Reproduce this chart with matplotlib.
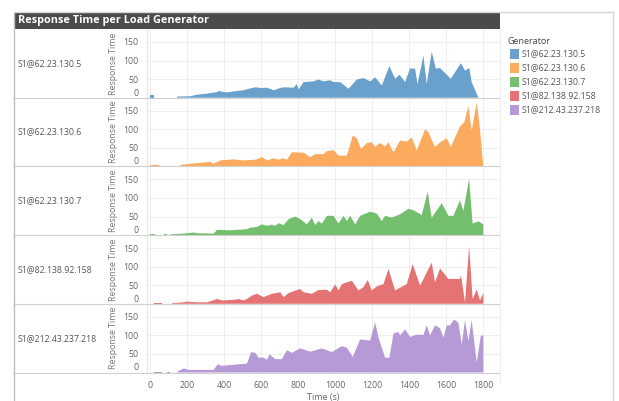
import numpy as np
import matplotlib
matplotlib.use('Agg')
import matplotlib.pyplot as plt
from matplotlib.lines import Line2D
from matplotlib.patches import Rectangle

plt.rcParams['font.family'] = ['Open Sans', 'DejaVu Sans']

nan = np.nan

# data (time in s, response time)
names = ['S1@62.23.130.5', 'S1@62.23.130.6', 'S1@62.23.130.7', 'S1@82.138.92.158', 'S1@212.43.237.218']
colors = ['#69a0cc', '#fbaa5e', '#73bf6e', '#e57373', '#b59ad6']

t1 = [0, 22, 30, 144, 216, 252, 306, 360, 369, 414, 450, 500, 540, 567, 600, 630, 666, 700, 720, 774, 792, 801,
      828, 882, 909, 936, 972, 990, 1026, 1071, 1116, 1152, 1188, 1215, 1251, 1292, 1323, 1346, 1377, 1404,
      1431, 1444, 1476, 1494, 1521, 1543, 1566, 1624, 1679, 1701, 1724, 1737, 1773]
v1 = [6, 6, nan, 3, 4, 8, 11, 15, 18, 14, 17, 20, 25, 28, 26, 27, 20, 26, 28, 27, 37, 22,
      42, 44, 49, 44, 47, 42, 42, 24, 49, 53, 44, 55, 33, 85, 51, 62, 42, 79,
      78, 37, 113, 37, 124, 78, 80, 51, 93, 73, 80, 42, 0]

t2 = [0, 45, 55, 162, 252, 324, 342, 378, 450, 500, 567, 603, 630, 666, 693, 720, 738, 765, 828, 864, 891, 936,
      954, 990, 1017, 1062, 1094, 1116, 1139, 1170, 1197, 1215, 1238, 1269, 1287, 1314, 1350, 1386, 1413,
      1440, 1485, 1503, 1539, 1566, 1602, 1624, 1674, 1697, 1719, 1737, 1764, 1778, 1800]
v2 = [3, 3, nan, 4, 9, 12, 7, 16, 19, 16, 18, 25, 16, 22, 18, 22, 18, 38, 37, 25, 33, 33,
      41, 44, 29, 29, 83, 76, 47, 63, 65, 52, 63, 54, 65, 38, 70, 67, 78,
      43, 100, 92, 52, 65, 76, 52, 108, 119, 163, 96, 172, 119, 0]

t3 = [0, 27, 35, 72, 90, 100, 108, 180, 234, 252, 342, 360, 432, 522, 540, 576, 603, 630, 657, 675, 693, 720,
      747, 783, 810, 846, 873, 891, 909, 927, 954, 990, 1017, 1044, 1062, 1080, 1107, 1134, 1188, 1224,
      1251, 1269, 1305, 1350, 1395, 1422, 1467, 1499, 1521, 1575, 1611, 1638, 1674, 1692, 1723, 1742, 1773, 1800]
v3 = [3, 3, nan, 2, 2, nan, 2, 4, 7, 5, 4, 14, 13, 16, 20, 22, 29, 25, 28, 25, 32, 27,
      43, 50, 43, 29, 47, 27, 38, 31, 52, 52, 31, 52, 38, 52, 29, 52, 63, 58,
      38, 52, 47, 56, 71, 67, 54, 117, 47, 86, 52, 52, 94, 65, 152, 31, 37, 29]

t4 = [18, 63, 70, 117, 180, 198, 252, 306, 360, 387, 459, 477, 504, 522, 549, 576, 612, 657, 702, 720, 747,
      810, 828, 873, 909, 954, 972, 999, 1017, 1035, 1062, 1089, 1125, 1152, 1175, 1197, 1224, 1260, 1287,
      1323, 1386, 1418, 1458, 1521, 1539, 1566, 1611, 1674, 1679, 1701, 1723, 1742, 1764, 1782, 1800]
v4 = [3, 3, nan, 2, 4, 6, 4, 4, 13, 9, 11, 13, 9, 13, 22, 27, 18, 27, 31, 18, 29,
      40, 31, 27, 37, 38, 31, 52, 36, 53, 58, 62, 36, 45, 64, 36, 47, 53, 94,
      36, 53, 107, 49, 111, 58, 95, 67, 67, 77, 4, 156, 13, 38, 9, 29]

t5 = [18, 63, 70, 90, 108, 115, 144, 180, 207, 342, 364, 387, 522, 545, 567, 585, 612, 630, 644, 675, 711,
      738, 765, 810, 864, 927, 981, 1035, 1062, 1094, 1134, 1188, 1215, 1233, 1269, 1292, 1314, 1341, 1350,
      1377, 1404, 1440, 1476, 1494, 1512, 1539, 1566, 1584, 1602, 1620, 1642, 1665, 1683, 1701, 1719, 1737,
      1764, 1786, 1800]
v5 = [2, 2, nan, 1, 1, nan, 2, 11, 7, 7, 22, 18, 24, 55, 53, 40, 40, 34, 49, 36, 36,
      60, 53, 65, 56, 65, 55, 71, 67, 42, 89, 86, 135, 94, 40, 40, 105, 109, 100,
      116, 96, 102, 101, 127, 100, 127, 119, 94, 127, 127, 143, 134, 76, 141, 85, 141,
      27, 98, 101]

times = [t1, t2, t3, t4, t5]
values = [v1, v2, v3, v4, v5]

W, H = 619, 401
fig = plt.figure(figsize=(W / 100, H / 100), dpi=100)


def fx(px):
    return px / W


def fy(py):
    return 1 - py / H


grey_line = '#d0d0d0'
row_top = 29
row_h = 68.7
ax_left = 146.7
ax_right = 500

for i in range(5):
    top = row_top + i * row_h
    ax = fig.add_axes([fx(ax_left), fy(top + row_h), fx(ax_right - ax_left), row_h / H])
    t = np.array(times[i], dtype=float)
    v = np.array(values[i], dtype=float)
    ax.fill_between(t, 0, v, color=colors[i], lw=0)
    ax.set_xlim(-20, 1890)
    ax.set_ylim(0, 185)
    ax.set_yticks([0, 50, 100, 150])
    ax.set_xticks(range(0, 1801, 200))
    ax.grid(True, color='#eeeeee', lw=0.7)
    ax.set_axisbelow(True)
    for s in ax.spines.values():
        s.set_visible(False)
    ax.spines['left'].set_visible(True)
    ax.spines['left'].set_color('#e6e6e6')
    ax.tick_params(length=0, labelsize=6.3, colors='#666666', pad=6)
    for lab in ax.get_yticklabels():
        if lab.get_text() == '0':
            lab.set_va('bottom')
    ax.set_ylabel('Response Time', fontsize=6.3, color='#777777', labelpad=4)
    if i < 4:
        ax.tick_params(labelbottom=False)
    else:
        ax.set_xlabel('Time (s)', fontsize=6.5, color='#666666', labelpad=2)
    fig.text(fx(18), fy(top + row_h / 2), names[i], fontsize=6.3, color='#555555', va='center', ha='left')
    # row separator
    fig.add_artist(Line2D([fx(14), fx(ax_right)], [fy(top + row_h), fy(top + row_h)], color=grey_line, lw=0.8))

# right border line of plot area
fig.add_artist(Line2D([fx(ax_right), fx(ax_right)], [fy(row_top), fy(row_top + 5 * row_h + 8)], color='#eeeeee', lw=0.8))

# frame
fig.add_artist(Line2D([fx(14), fx(14)], [fy(12), 0], color='#bdbdbd', lw=1))
fig.add_artist(Line2D([fx(613), fx(613)], [fy(12), 0], color='#d5d5d5', lw=1))
fig.add_artist(Line2D([fx(14), fx(613)], [fy(12), fy(12)], color='#d5d5d5', lw=1))

# title bar
fig.add_artist(Rectangle((fx(14), fy(29)), fx(500 - 14), 17 / H, color='#4b4b4b', lw=0))
fig.text(fx(18), fy(20.5), 'Response Time per Load Generator', color='white', fontsize=7.8,
         fontweight='bold', va='center', ha='left')

# legend
fig.text(fx(508), fy(42), 'Generator', fontsize=6.5, color='#444444', va='center', ha='left')
for i in range(5):
    y = 54 + i * 14
    fig.add_artist(Rectangle((fx(510), fy(y + 4.5)), fx(9), 9 / H, color=colors[i], lw=0))
    fig.text(fx(522), fy(y), names[i], fontsize=6.3, color='#555555', va='center', ha='left')

fig.savefig('out.png', dpi=100)
